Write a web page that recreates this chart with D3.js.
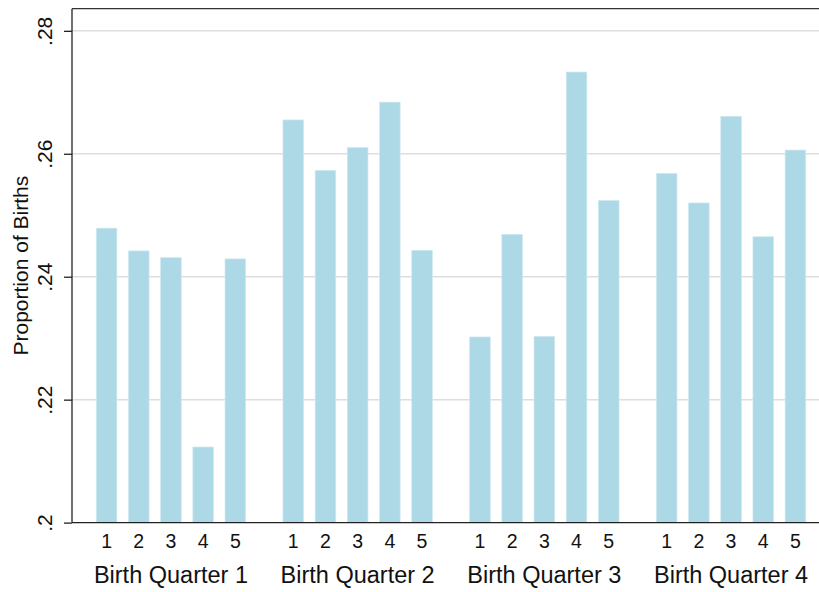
<!DOCTYPE html>
<html>
<head>
<meta charset="utf-8">
<script src="https://cdn.jsdelivr.net/npm/d3@7"></script>
<style>
  body { margin: 0; background: #fff; }
  svg { display: block; font-family: "Liberation Sans", Arial, sans-serif; }
</style>
</head>
<body>
<svg id="chart"></svg>
<script>
// Data: proportion of births by birth quarter, sub-bars 1..5
const quarters = ['Birth Quarter 1', 'Birth Quarter 2', 'Birth Quarter 3', 'Birth Quarter 4'];
const subgroups = ['1', '2', '3', '4', '5'];
const q1Values = [0.2479, 0.2442, 0.2431, 0.2123, 0.2429];
const q2Values = [0.2655, 0.2573, 0.2610, 0.2684, 0.2443];
const q3Values = [0.2302, 0.2469, 0.2303, 0.2733, 0.2524];
const q4Values = [0.2568, 0.2520, 0.2661, 0.2465, 0.2606];
const yTicks = [0.2, 0.22, 0.24, 0.26, 0.28];

const seriesByQuarter = [q1Values, q2Values, q3Values, q4Values];
const data = [];
quarters.forEach((q, i) => {
  subgroups.forEach((s, j) => data.push({ quarter: q, sub: s, value: seriesByQuarter[i][j] }));
});

const config = {
  containerWidth: 819,
  containerHeight: 592,
  // right side runs past the window, the original picture is cropped there
  margin: { top: 8.7, right: -11, bottom: 69.4, left: 72 }
};

const width = config.containerWidth - config.margin.left - config.margin.right;
const height = config.containerHeight - config.margin.top - config.margin.bottom;

const svg = d3.select('#chart')
  .attr('width', config.containerWidth)
  .attr('height', config.containerHeight);

const chart = svg.append('g')
  .attr('transform', `translate(${config.margin.left},${config.margin.top})`);

// Scales
const xOuter = d3.scaleBand()
  .domain(quarters)
  .range([0, width])
  .paddingInner(0.2)
  .paddingOuter(0.13);

const xInner = d3.scaleBand()
  .domain(subgroups)
  .range([0, xOuter.bandwidth()])
  .paddingInner(0.36)
  .paddingOuter(0);

const yScale = d3.scaleLinear()
  .domain([0.2, 0.2836])
  .range([height, 0]);

// Gridlines
chart.append('g')
  .selectAll('line')
  .data(yTicks.filter(d => d > 0.2))
  .join('line')
  .attr('x1', 0)
  .attr('x2', width)
  .attr('y1', d => yScale(d))
  .attr('y2', d => yScale(d))
  .attr('stroke', '#dedede')
  .attr('stroke-width', 1.5);

// Bars
chart.append('g')
  .selectAll('rect')
  .data(data)
  .join('rect')
  .attr('x', d => xOuter(d.quarter) + xInner(d.sub))
  .attr('width', xInner.bandwidth())
  .attr('y', d => yScale(d.value))
  .attr('height', d => yScale(0.2) - yScale(d.value))
  .attr('fill', '#add8e6')
  .attr('stroke', '#cfe9f1')
  .attr('stroke-width', 0.7);

// Top frame line
chart.append('line')
  .attr('x1', 0).attr('x2', width)
  .attr('y1', 0).attr('y2', 0)
  .attr('stroke', '#333')
  .attr('stroke-width', 1.3);

// Y axis
const yAxis = d3.axisLeft(yScale)
  .tickValues(yTicks)
  .tickSize(8)
  .tickPadding(0)
  .tickFormat(d => d3.format('.2f')(d).replace(/^0/, '').replace(/0$/, ''));

const yAxisG = chart.append('g').call(yAxis);
yAxisG.select('.domain')
  .attr('d', `M0,0V${height}`)
  .attr('stroke', '#222')
  .attr('stroke-width', 1.3);
yAxisG.selectAll('.tick line').attr('stroke', '#222').attr('stroke-width', 1.3);
yAxisG.selectAll('.tick text')
  .attr('x', null).attr('dy', null)
  .attr('transform', 'translate(-20,0) rotate(-90)')
  .attr('text-anchor', 'middle')
  .attr('font-size', 21)
  .attr('fill', '#111');

// X axis (bottom line + sub labels)
chart.append('line')
  .attr('x1', 0).attr('x2', width)
  .attr('y1', height).attr('y2', height)
  .attr('stroke', '#222')
  .attr('stroke-width', 1.3);

chart.append('g')
  .selectAll('text')
  .data(data)
  .join('text')
  .attr('x', d => xOuter(d.quarter) + xInner(d.sub) + xInner.bandwidth() / 2)
  .attr('y', height + 25)
  .attr('text-anchor', 'middle')
  .attr('font-size', 19.5)
  .attr('fill', '#111')
  .text(d => d.sub);

chart.append('g')
  .selectAll('text')
  .data(quarters)
  .join('text')
  .attr('x', d => xOuter(d) + xOuter.bandwidth() / 2)
  .attr('y', height + 60)
  .attr('text-anchor', 'middle')
  .attr('font-size', 23.5)
  .attr('fill', '#111')
  .text(d => d);

// Y axis title
chart.append('text')
  .attr('transform', `translate(${28 - config.margin.left},${height / 2}) rotate(-90)`)
  .attr('text-anchor', 'middle')
  .attr('font-size', 21)
  .attr('fill', '#111')
  .text('Proportion of Births');
</script>
</body>
</html>
